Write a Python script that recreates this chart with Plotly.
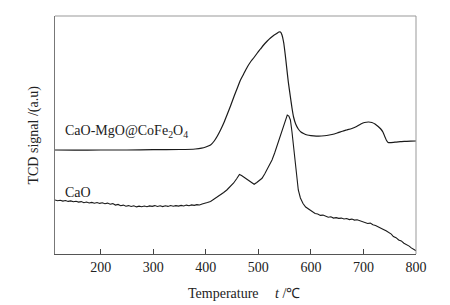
import plotly.graph_objects as go

# Temperature (°C) and TCD signal (a.u.)
comp_T = [113, 150, 200, 250, 300, 350, 380, 392, 400, 409, 416, 422, 428, 435, 441, 447, 454, 460, 466, 472,
          479, 485, 491, 498, 504, 510, 517, 523, 529, 535, 539, 542, 545, 548, 551, 554, 557, 561, 564, 567,
          571, 576, 581, 586, 593, 600, 610, 620, 630, 640, 650, 660, 668, 678, 687, 695, 702, 710, 716, 722,
          728, 733, 737, 741, 744, 747, 750, 760, 770, 780, 790, 800]
comp_v = [104, 103.8, 104, 104, 104.3, 104.5, 105, 105.8, 107, 109, 113, 118, 124, 132, 140, 148, 158, 166, 174, 180,
          187, 192, 196, 201, 205, 209, 213, 216, 218.5, 220.5, 222, 222, 219, 212, 200, 186, 172, 157, 146, 137,
          130, 125, 122, 120.5, 119, 118.3, 117.8, 118, 118.5, 119.5, 121, 122.8, 124, 125.5, 127.5, 130, 131.5, 132, 131.5, 130,
          127.5, 125, 122, 117, 113.5, 111.5, 111.3, 111.8, 112.3, 112.6, 112.9, 113]

cao_T = [113, 118, 123, 128, 133, 138, 143, 148, 153, 158, 163, 168, 173, 178, 183, 188, 193, 198, 203, 208,
         213, 218, 223, 228, 233, 238, 243, 248, 253, 258, 263, 268, 273, 278, 283, 288, 293, 298, 303, 308,
         313, 318, 323, 328, 333, 338, 343, 348, 353, 358, 363, 368, 373, 378, 383, 388, 393, 398, 403, 409,
         415, 421, 428, 434, 440, 447, 453, 459, 464, 468, 474, 480, 486, 492, 497, 502, 507, 512, 517, 522,
         526, 531, 536, 542, 547, 551, 555, 558, 561, 564, 567, 570, 573, 576, 580, 585, 590, 595, 602, 608,
         613, 618, 623, 628, 633, 638, 643, 648, 653, 658, 663, 668, 673, 678, 683, 688, 693, 698, 703, 708,
         713, 718, 723, 728, 733, 738, 743, 748, 753, 757, 762, 767, 772, 777, 782, 787, 791, 795, 800]
cao_v = [54, 53.2, 53.8, 52.9, 53.5, 52.6, 53.1, 52.2, 52.8, 51.9, 52.4, 51.3, 52.0, 51.0, 51.6, 50.8, 51.5, 50.6, 51.2, 50.3,
         50.9, 49.8, 50.4, 48.9, 49.6, 48.3, 48.9, 47.8, 48.4, 47.5, 48.2, 47.1, 47.9, 47.2, 48.0, 47.3, 48.1, 47.6, 48.4, 47.5,
         48.2, 47.4, 48.3, 47.6, 48.5, 47.7, 48.4, 47.9, 48.6, 48.0, 48.9, 48.2, 49.1, 48.6, 49.4, 49.0, 50.0, 50.4, 51.5, 52.5,
         54.5, 56.3, 59.0, 61.5, 64.0, 67.3, 71.0, 75.5, 79.5, 78.5, 76.5, 74.0, 72.0, 69.7, 71.5, 73.5, 75.7, 80, 85, 90,
         94, 101, 109, 117.3, 126, 133, 139, 138, 134, 122, 106, 90, 74, 64, 56, 50.5, 47, 45, 42.5, 40.5,
         40, 38.6, 38.9, 37.4, 36.7, 37.2, 35.9, 36.4, 35.6, 35.9, 35.0, 35.5, 34.4, 34.9, 33.9, 34.3, 33.3, 32.5, 31.8, 30.5,
         30.9, 29.2, 28.6, 27.0, 25.9, 24.6, 23.2, 21.6, 19.9, 17.5, 16.3, 14.0, 13.1, 10.8, 9.6, 7.9, 6.1, 5.0, 3.3]

x_ticks = [200, 300, 400, 500, 600, 700, 800]
label_comp = "CaO-MgO@CoFe<sub>2</sub>O<sub>4</sub>"
label_cao = "CaO"

FONT = "Liberation Serif, Times New Roman, serif"
LINE = "#1a1a1a"

fig = go.Figure()
fig.add_trace(go.Scatter(x=comp_T, y=comp_v, mode="lines", line=dict(color=LINE, width=1.2, shape="spline", smoothing=0.6),
                         showlegend=False, hoverinfo="skip"))
fig.add_trace(go.Scatter(x=cao_T, y=cao_v, mode="lines", line=dict(color=LINE, width=1.1),
                         showlegend=False, hoverinfo="skip"))

fig.update_layout(
    width=450, height=305,
    margin=dict(l=54.5, r=34, t=16, b=51),
    paper_bgcolor="white", plot_bgcolor="white",
    font=dict(family=FONT, size=14, color="#222"),
    xaxis=dict(range=[113, 800], tickvals=x_ticks, ticks="inside", ticklen=5, tickcolor="#444",
               showline=True, linecolor="#555", linewidth=1, showgrid=False, zeroline=False,
               tickfont=dict(family=FONT, size=14, color="#222")),
    yaxis=dict(range=[0, 238], showticklabels=False, ticks="", showline=True, linecolor="#777",
               linewidth=1, showgrid=False, zeroline=False),
    shapes=[
        dict(type="line", xref="paper", yref="paper", x0=0, x1=1, y0=1, y1=1, line=dict(color="#999", width=1)),
        dict(type="line", xref="paper", yref="paper", x0=1, x1=1, y0=0, y1=1, line=dict(color="#999", width=1)),
    ],
    annotations=[
        dict(x=129, y=123, xref="x", yref="y", text=label_comp, showarrow=False, xanchor="left", yanchor="middle",
             font=dict(family=FONT, size=14, color="#222")),
        dict(x=129, y=61.3, xref="x", yref="y", text=label_cao, showarrow=False, xanchor="left", yanchor="middle",
             font=dict(family=FONT, size=14, color="#222")),
        dict(x=(222.8 - 54.5) / 361.5, y=0, xref="paper", yref="paper", yshift=-39, text="Temperature",
             showarrow=False, xanchor="center", yanchor="middle", font=dict(family=FONT, size=14, color="#222")),
        dict(x=(273 - 54.5) / 361.5, y=0, xref="paper", yref="paper", yshift=-39, text="<i>t</i> /℃",
             showarrow=False, xanchor="left", yanchor="middle", font=dict(family=FONT, size=14, color="#222")),
        dict(x=(33 - 54.5) / 361.5, y=0.5, xref="paper", yref="paper", text="TCD signal /(a.u)", textangle=-90,
             showarrow=False, xanchor="center", yanchor="middle", font=dict(family=FONT, size=14, color="#222")),
    ],
)

fig.write_html("out.html", config={"displayModeBar": False},
               post_script="document.body.style.margin='0';document.body.style.overflow='hidden';")
